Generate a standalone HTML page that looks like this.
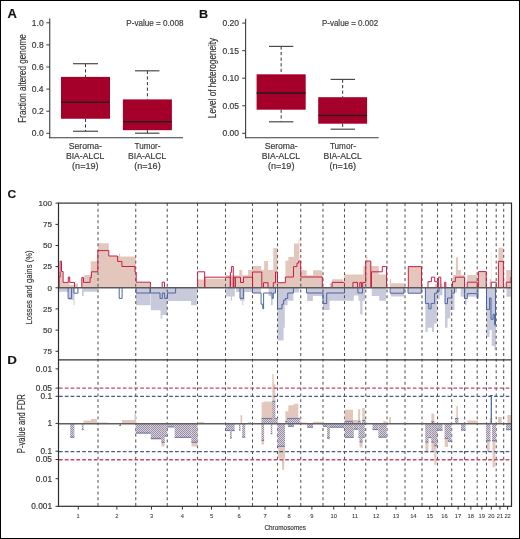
<!DOCTYPE html>
<html><head><meta charset="utf-8"><style>
html,body{margin:0;padding:0;background:#fff;}
#fig{position:relative;width:520px;height:539px;overflow:hidden;background:#fff;}
svg{position:absolute;left:0;top:0;font-family:"Liberation Sans", sans-serif;will-change:transform;filter:blur(0.25px);}
#bd{position:absolute;left:0;top:0;width:520px;height:539px;box-sizing:border-box;border:1px solid #000;}
text{stroke:#333;stroke-width:0.18px;}
</style></head><body><div id="fig">
<svg width="520" height="539" viewBox="0 0 520 539">
<defs>
<pattern id="hatch" patternUnits="userSpaceOnUse" width="2" height="2">
<rect width="2" height="2" fill="#e9cfc6"/>
<rect width="1" height="1" fill="#8690bb"/>
<rect x="1" y="1" width="1" height="1" fill="#8690bb"/>
</pattern>
</defs>
<line x1="49.75" y1="18.5" x2="49.75" y2="138.2" stroke="#3a3a3a" stroke-width="1.1" />
<line x1="49.25" y1="137.7" x2="183" y2="137.7" stroke="#3a3a3a" stroke-width="1.1" />
<line x1="46.35" y1="22.80000000000001" x2="49.75" y2="22.80000000000001" stroke="#3a3a3a" stroke-width="1" />
<text x="31.82" y="25.80" font-size="8.50" font-weight="normal" fill="#3a3a3a" textLength="11.82" lengthAdjust="spacingAndGlyphs" >1.0</text>
<line x1="46.35" y1="44.900000000000006" x2="49.75" y2="44.900000000000006" stroke="#3a3a3a" stroke-width="1" />
<text x="31.82" y="47.90" font-size="8.50" font-weight="normal" fill="#3a3a3a" textLength="11.82" lengthAdjust="spacingAndGlyphs" >0.8</text>
<line x1="46.35" y1="67.00000000000001" x2="49.75" y2="67.00000000000001" stroke="#3a3a3a" stroke-width="1" />
<text x="31.87" y="70.00" font-size="8.50" font-weight="normal" fill="#3a3a3a" textLength="11.82" lengthAdjust="spacingAndGlyphs" >0.6</text>
<line x1="46.35" y1="89.10000000000001" x2="49.75" y2="89.10000000000001" stroke="#3a3a3a" stroke-width="1" />
<text x="31.74" y="92.10" font-size="8.50" font-weight="normal" fill="#3a3a3a" textLength="11.82" lengthAdjust="spacingAndGlyphs" >0.4</text>
<line x1="46.35" y1="111.20000000000002" x2="49.75" y2="111.20000000000002" stroke="#3a3a3a" stroke-width="1" />
<text x="31.91" y="114.20" font-size="8.50" font-weight="normal" fill="#3a3a3a" textLength="11.82" lengthAdjust="spacingAndGlyphs" >0.2</text>
<line x1="46.35" y1="133.3" x2="49.75" y2="133.3" stroke="#3a3a3a" stroke-width="1" />
<text x="31.82" y="136.30" font-size="8.50" font-weight="normal" fill="#3a3a3a" textLength="11.82" lengthAdjust="spacingAndGlyphs" >0.0</text>
<line x1="85.5" y1="63.7" x2="85.5" y2="76.9" stroke="#333" stroke-width="1" stroke-dasharray="3.2,2.4" />
<line x1="85.5" y1="118.75" x2="85.5" y2="131.25" stroke="#333" stroke-width="1" stroke-dasharray="3.2,2.4" />
<line x1="73" y1="63.7" x2="98" y2="63.7" stroke="#4a4a4a" stroke-width="1.2" />
<line x1="73" y1="131.25" x2="98" y2="131.25" stroke="#4a4a4a" stroke-width="1.2" />
<rect x="61.00" y="76.90" width="49.00" height="41.85" fill="#a5002a" />
<line x1="61" y1="102.25" x2="110" y2="102.25" stroke="#2a1a1e" stroke-width="1.5" />
<line x1="147.4" y1="70.8" x2="147.4" y2="99.4" stroke="#333" stroke-width="1" stroke-dasharray="3.2,2.4" />
<line x1="147.4" y1="130.2" x2="147.4" y2="133.2" stroke="#333" stroke-width="1" stroke-dasharray="3.2,2.4" />
<line x1="135" y1="70.8" x2="159.4" y2="70.8" stroke="#4a4a4a" stroke-width="1.2" />
<line x1="135" y1="133.2" x2="159.4" y2="133.2" stroke="#4a4a4a" stroke-width="1.2" />
<rect x="122.90" y="99.40" width="49.00" height="30.80" fill="#a5002a" />
<line x1="122.9" y1="121.8" x2="171.9" y2="121.8" stroke="#2a1a1e" stroke-width="1.5" />
<text x="68.81" y="149.00" font-size="9.30" font-weight="normal" fill="#3a3a3a" textLength="33.07" lengthAdjust="spacingAndGlyphs" >Seroma-</text>
<text x="65.96" y="159.00" font-size="9.30" font-weight="normal" fill="#3a3a3a" textLength="38.36" lengthAdjust="spacingAndGlyphs" >BIA-ALCL</text>
<text x="72.10" y="169.20" font-size="9.30" font-weight="normal" fill="#3a3a3a" textLength="26.52" lengthAdjust="spacingAndGlyphs" >(n=19)</text>
<text x="134.50" y="149.00" font-size="9.30" font-weight="normal" fill="#3a3a3a" textLength="25.97" lengthAdjust="spacingAndGlyphs" >Tumor-</text>
<text x="128.01" y="159.00" font-size="9.30" font-weight="normal" fill="#3a3a3a" textLength="38.36" lengthAdjust="spacingAndGlyphs" >BIA-ALCL</text>
<text x="134.15" y="169.20" font-size="9.30" font-weight="normal" fill="#3a3a3a" textLength="26.52" lengthAdjust="spacingAndGlyphs" >(n=16)</text>
<text x="-0.65" y="0" font-size="10.72" font-weight="normal" fill="#3a3a3a" textLength="88.42" lengthAdjust="spacingAndGlyphs" transform="translate(25.80 122.00) rotate(-90)">Fraction altered genome</text>
<text x="126.25" y="25.70" font-size="8.26" font-weight="normal" fill="#444" textLength="57.20" lengthAdjust="spacingAndGlyphs" >P-value = 0.008</text>
<text x="7.48" y="17.70" font-size="12.17" font-weight="bold" fill="#111" textLength="9.38" lengthAdjust="spacingAndGlyphs" >A</text>
<line x1="245.6" y1="18.75" x2="245.6" y2="138.2" stroke="#3a3a3a" stroke-width="1.1" />
<line x1="245.1" y1="137.7" x2="378.7" y2="137.7" stroke="#3a3a3a" stroke-width="1.1" />
<line x1="242.2" y1="23.10000000000001" x2="245.6" y2="23.10000000000001" stroke="#3a3a3a" stroke-width="1" />
<text x="222.51" y="26.10" font-size="8.50" font-weight="normal" fill="#3a3a3a" textLength="16.54" lengthAdjust="spacingAndGlyphs" >0.20</text>
<line x1="242.2" y1="50.65000000000002" x2="245.6" y2="50.65000000000002" stroke="#3a3a3a" stroke-width="1" />
<text x="222.51" y="53.65" font-size="8.50" font-weight="normal" fill="#3a3a3a" textLength="16.54" lengthAdjust="spacingAndGlyphs" >0.15</text>
<line x1="242.2" y1="78.20000000000002" x2="245.6" y2="78.20000000000002" stroke="#3a3a3a" stroke-width="1" />
<text x="222.51" y="81.20" font-size="8.50" font-weight="normal" fill="#3a3a3a" textLength="16.54" lengthAdjust="spacingAndGlyphs" >0.10</text>
<line x1="242.2" y1="105.75000000000001" x2="245.6" y2="105.75000000000001" stroke="#3a3a3a" stroke-width="1" />
<text x="222.51" y="108.75" font-size="8.50" font-weight="normal" fill="#3a3a3a" textLength="16.54" lengthAdjust="spacingAndGlyphs" >0.05</text>
<line x1="242.2" y1="133.3" x2="245.6" y2="133.3" stroke="#3a3a3a" stroke-width="1" />
<text x="222.51" y="136.30" font-size="8.50" font-weight="normal" fill="#3a3a3a" textLength="16.54" lengthAdjust="spacingAndGlyphs" >0.00</text>
<line x1="281.15" y1="46.4" x2="281.15" y2="74.3" stroke="#333" stroke-width="1" stroke-dasharray="3.2,2.4" />
<line x1="281.15" y1="109.7" x2="281.15" y2="121.8" stroke="#333" stroke-width="1" stroke-dasharray="3.2,2.4" />
<line x1="269" y1="46.4" x2="293.3" y2="46.4" stroke="#4a4a4a" stroke-width="1.2" />
<line x1="269" y1="121.8" x2="293.3" y2="121.8" stroke="#4a4a4a" stroke-width="1.2" />
<rect x="256.60" y="74.30" width="49.10" height="35.40" fill="#a5002a" />
<line x1="256.6" y1="93.1" x2="305.7" y2="93.1" stroke="#2a1a1e" stroke-width="1.5" />
<line x1="342.65" y1="79.4" x2="342.65" y2="97.2" stroke="#333" stroke-width="1" stroke-dasharray="3.2,2.4" />
<line x1="342.65" y1="123.7" x2="342.65" y2="129.2" stroke="#333" stroke-width="1" stroke-dasharray="3.2,2.4" />
<line x1="330.6" y1="79.4" x2="355" y2="79.4" stroke="#4a4a4a" stroke-width="1.2" />
<line x1="330.6" y1="129.2" x2="355" y2="129.2" stroke="#4a4a4a" stroke-width="1.2" />
<rect x="318.20" y="97.20" width="48.90" height="26.50" fill="#a5002a" />
<line x1="318.2" y1="115.4" x2="367.1" y2="115.4" stroke="#2a1a1e" stroke-width="1.5" />
<text x="264.66" y="149.00" font-size="9.30" font-weight="normal" fill="#3a3a3a" textLength="33.07" lengthAdjust="spacingAndGlyphs" >Seroma-</text>
<text x="261.81" y="159.00" font-size="9.30" font-weight="normal" fill="#3a3a3a" textLength="38.36" lengthAdjust="spacingAndGlyphs" >BIA-ALCL</text>
<text x="267.95" y="169.20" font-size="9.30" font-weight="normal" fill="#3a3a3a" textLength="26.52" lengthAdjust="spacingAndGlyphs" >(n=19)</text>
<text x="329.90" y="149.00" font-size="9.30" font-weight="normal" fill="#3a3a3a" textLength="25.97" lengthAdjust="spacingAndGlyphs" >Tumor-</text>
<text x="323.41" y="159.00" font-size="9.30" font-weight="normal" fill="#3a3a3a" textLength="38.36" lengthAdjust="spacingAndGlyphs" >BIA-ALCL</text>
<text x="329.55" y="169.20" font-size="9.30" font-weight="normal" fill="#3a3a3a" textLength="26.52" lengthAdjust="spacingAndGlyphs" >(n=16)</text>
<text x="-0.65" y="0" font-size="10.00" font-weight="normal" fill="#3a3a3a" textLength="80.30" lengthAdjust="spacingAndGlyphs" transform="translate(216.00 117.50) rotate(-90)">Level of heterogeneity</text>
<text x="321.96" y="25.70" font-size="8.26" font-weight="normal" fill="#444" textLength="56.16" lengthAdjust="spacingAndGlyphs" >P-value = 0.002</text>
<text x="198.98" y="17.50" font-size="11.59" font-weight="bold" fill="#111" textLength="9.12" lengthAdjust="spacingAndGlyphs" >B</text>
<path d="M59.10,287.8V272.10H62.90V282.40H69.40V284.80H74.90V283.50H78.00V287.8ZM81.80,287.8V277.60H84.20V274.90H90.70V261.20H97.90V287.8ZM98.00,287.8V243.20H108.80V256.00H118.80V256.50H119.00V253.50H120.00V256.50H135.80V287.8ZM136.20,287.8V282.50H150.40V287.8ZM197.60,287.8V279.50H204.70V278.80H225.30V287.8ZM225.50,287.8V275.20H239.30V270.00H242.20V275.20H248.00V270.00H252.50V266.00H261.20V270.00H264.10V261.10H268.10V270.00H273.30V247.90H277.40V287.8ZM277.50,287.8V282.70H285.40V260.80H288.30V257.10H294.00V243.50H298.60V239.00H299.20V239.00H299.40V260.80H300.70V270.30H306.70V275.20H313.00V270.30H322.30V287.8ZM329.80,287.8V283.30H332.10V279.30H343.00V287.8ZM344.20,287.8V274.60H363.30V266.00H365.70V261.40H366.50V256.80H367.50V261.40H370.80V266.00H378.80V274.60H386.30V287.8ZM389.80,287.8V279.30H391.00V283.30H404.20V287.8ZM408.30,287.8V266.60H421.50V287.8ZM434.70,287.8V283.90H437.50V287.8ZM440.80,287.8V284.00H442.50V287.8ZM453.00,287.8V275.00H455.90V257.20H458.00V270.00H460.90V275.00H464.60V287.8ZM467.20,287.8V275.00H477.30V287.8ZM478.40,287.8V271.60H486.20V287.8ZM489.50,287.8V279.00H491.00V287.8ZM498.40,287.8V247.70H503.40V287.8ZM506.20,287.8V270.00H511.20V287.8Z" fill="#e4c7bc"/>
<rect x="490.9" y="252.0" width="0.60" height="35.80" fill="#eed8d0"/>
<path d="M58.90,287.8V291.80H68.70V300.00H73.50V305.00H74.50V287.8ZM82.00,287.8V296.10H83.70V291.80H97.50V287.8ZM136.00,287.8V305.30H150.40V287.8ZM150.80,287.8V310.30H160.60V318.60H162.30V314.90H167.00V287.8ZM167.30,287.8V301.00H191.10V305.30H196.90V287.8ZM226.10,287.8V296.50H230.80V300.70H232.00V296.50H234.80V287.8ZM236.00,287.8V292.00H240.00V300.70H242.30V305.30H243.30V300.70H244.60V292.00H252.50V293.00H261.10V287.8ZM268.60,287.8V296.10H271.00V305.30H272.70V293.00H275.50V287.8ZM277.50,287.8V340.50H283.60V327.80H284.80V305.30H287.70V300.70H293.40V292.50H299.20V287.8ZM307.10,287.8V301.00H312.90V296.10H323.00V310.00H329.60V300.70H344.50V300.70H353.80V295.50H358.50V300.70H360.20V314.60H362.50V300.70H365.00V287.8ZM371.70,287.8V296.10H379.20V300.70H386.10V287.8ZM390.80,287.8V296.50H404.00V287.8ZM408.00,287.8V293.20H421.30V287.8ZM425.40,287.8V331.90H427.70V327.70H432.00V331.90H434.10V323.40H436.90V299.50H439.70V295.30H442.50V287.8ZM445.00,287.8V327.70H447.50V318.50H450.30V310.00H454.50V292.50H457.00V287.8ZM460.80,287.8V296.70H465.00V305.00H466.50V296.70H477.70V287.8ZM486.50,287.8V336.90H489.60V330.00H491.70V346.00H494.60V350.30H496.00V287.8ZM506.50,287.8V296.70H510.80V287.8Z" fill="#c8cadc"/>
<line x1="98" y1="202.98" x2="98" y2="506.3" stroke="#555" stroke-width="1.05" stroke-dasharray="2.9,2.87"/>
<line x1="135.75" y1="202.98" x2="135.75" y2="506.3" stroke="#555" stroke-width="1.05" stroke-dasharray="2.9,2.87"/>
<line x1="167.25" y1="202.98" x2="167.25" y2="506.3" stroke="#555" stroke-width="1.05" stroke-dasharray="2.9,2.87"/>
<line x1="197.5" y1="202.98" x2="197.5" y2="506.3" stroke="#555" stroke-width="1.05" stroke-dasharray="2.9,2.87"/>
<line x1="225.5" y1="202.98" x2="225.5" y2="506.3" stroke="#555" stroke-width="1.05" stroke-dasharray="2.9,2.87"/>
<line x1="252.5" y1="202.98" x2="252.5" y2="506.3" stroke="#555" stroke-width="1.05" stroke-dasharray="2.9,2.87"/>
<line x1="277.5" y1="202.98" x2="277.5" y2="506.3" stroke="#555" stroke-width="1.05" stroke-dasharray="2.9,2.87"/>
<line x1="300.75" y1="202.98" x2="300.75" y2="506.3" stroke="#555" stroke-width="1.05" stroke-dasharray="2.9,2.87"/>
<line x1="323" y1="202.98" x2="323" y2="506.3" stroke="#555" stroke-width="1.05" stroke-dasharray="2.9,2.87"/>
<line x1="344.5" y1="202.98" x2="344.5" y2="506.3" stroke="#555" stroke-width="1.05" stroke-dasharray="2.9,2.87"/>
<line x1="365.75" y1="202.98" x2="365.75" y2="506.3" stroke="#555" stroke-width="1.05" stroke-dasharray="2.9,2.87"/>
<line x1="387" y1="202.98" x2="387" y2="506.3" stroke="#555" stroke-width="1.05" stroke-dasharray="2.9,2.87"/>
<line x1="405" y1="202.98" x2="405" y2="506.3" stroke="#555" stroke-width="1.05" stroke-dasharray="2.9,2.87"/>
<line x1="422" y1="202.98" x2="422" y2="506.3" stroke="#555" stroke-width="1.05" stroke-dasharray="2.9,2.87"/>
<line x1="437.5" y1="202.98" x2="437.5" y2="506.3" stroke="#555" stroke-width="1.05" stroke-dasharray="2.9,2.87"/>
<line x1="451.7" y1="202.98" x2="451.7" y2="506.3" stroke="#555" stroke-width="1.05" stroke-dasharray="2.9,2.87"/>
<line x1="464.6" y1="202.98" x2="464.6" y2="506.3" stroke="#555" stroke-width="1.05" stroke-dasharray="2.9,2.87"/>
<line x1="477.2" y1="202.98" x2="477.2" y2="506.3" stroke="#555" stroke-width="1.05" stroke-dasharray="2.9,2.87"/>
<line x1="486.5" y1="202.98" x2="486.5" y2="506.3" stroke="#555" stroke-width="1.05" stroke-dasharray="2.9,2.87"/>
<line x1="496.2" y1="202.98" x2="496.2" y2="506.3" stroke="#555" stroke-width="1.05" stroke-dasharray="2.9,2.87"/>
<line x1="503.7" y1="202.98" x2="503.7" y2="506.3" stroke="#555" stroke-width="1.05" stroke-dasharray="2.9,2.87"/>
<path d="M59.1,287.8V277.0H60.1V261.2H61.5V271.5H63.1V282.4H68.3V277.0H69.7V282.4H74.5V287.8M81.8,287.8V277.6H83.5V282.4H90.1V277.6H91.4V271.8H97.8V250.6H108.8V256.0H117.6V261.4H121.9V266.5H135.0V272.2H136.2V282.2H150.4V287.8M162.2,287.8V282.2H164.5V287.8M197.6,287.8V271.8H204.7V287.8M204.75,287.8V277.2H225.5V277.2H230.3V287.8M230.35,287.8V272.3H231.6V266.5H233.3V287.8M233.35,287.8V277.2H235.2V287.8M235.25,287.8V277.2H240.5V282.5H243.5V277.2H252.6V287.8M252.5,287.8V272.0H261.8V287.8M263.5,287.8V282.7H268.1V287.8M273.3,287.8V282.7H275.5V272.0H277.5V282.7H285.4V277.0H293.5V266.6H297.0V263.1H298.6V261.1H300.7V277.0H322.3V287.8M332.1,287.8V282.4H344.2V287.8M352.9,287.8V282.4H357.5V287.8M359.8,287.8V282.4H361.5V287.8M362.7,287.8V282.4H365.7V261.1H370.8V287.8M371.5,287.8V271.8H382.3V266.6H386.5V287.8M408.3,287.8V266.6H421.5V287.8M428.0,287.8V281.7H431.4V277.2H434.7V281.7H437.5V287.8M438.6,287.8V277.2H440.8V287.8M444.7,287.8V282.2H445.8V287.8M452.5,287.8V281.7H455.3V277.2H464.6V287.8M467.2,287.8V282.2H477.3V287.8M478.4,287.8V271.6H486.2V287.8M491.2,287.8V282.2H496.2V287.8M498.4,287.8V261.4H503.4V287.8M506.2,287.8V282.2H511.0V277.0H511.5V287.8" fill="none" stroke="#c81e46" stroke-width="1.0" stroke-linejoin="miter"/>
<path d="M68.1,287.8V298.4H71.6V287.8M73.9,287.8V293.2H77.9V287.8M119.2,287.8V298.4H122.1V287.8M136.0,287.8V293.0H150.2V287.8M150.25,287.8V293.0H160.0V298.4H162.3V293.0H164.6V298.4H167.5V293.0H175.6V287.8M240.0,287.8V298.4H243.4V287.8M252.5,287.8V293.0H261.1V304.2H262.8V308.8H263.6V293.0H272.1V298.4H273.3V293.0H275.5V287.8M277.5,287.8V308.8H282.0V304.2H283.6V300.1H285.4V298.4H287.7V293.0H293.4V287.8M306.5,287.8V293.0H323.0V303.6H326.7V293.0H344.5V287.8M357.9,287.8V293.0H362.5V287.8M390.2,287.8V293.2H404.0V287.8M408.0,287.8V293.2H421.3V287.8M425.4,287.8V303.4H428.8V308.8H431.1V303.4H434.6V293.2H436.9V291.7H439.0V287.8M445.0,287.8V303.7H447.5V298.0H451.7V293.0H454.5V287.8M464.6,287.8V298.5H467.3V293.6H477.4V298.5H478.0V287.8M486.5,287.8V309.4H489.6V298.0H491.0V319.3H493.1V314.3H494.6V324.9H495.5V287.8" fill="none" stroke="#46609a" stroke-width="0.95" stroke-linejoin="miter"/>
<line x1="58.5" y1="287.8" x2="511.5" y2="287.8" stroke="#5a5a5a" stroke-width="1.5"/>
<path d="M83.50,423.7V420.60H91.00V418.90H96.90V422.60H107.80V423.7ZM122.00,423.7V420.00H134.50V413.40H136.00V423.7ZM197.70,423.7V421.90H203.80V423.7ZM240.50,423.7V415.20H242.20V423.7ZM247.90,423.7V422.20H251.40V423.7ZM261.60,423.7V402.30H264.10V401.60H272.30V374.10H273.80V383.80H275.30V418.00H277.50V423.7ZM285.40,423.7V411.30H288.30V405.30H293.80V403.80H298.30V418.00H300.50V423.7ZM301.50,423.7V422.60H306.50V423.7ZM313.00,423.7V421.70H322.20V423.7ZM344.70,423.7V409.70H353.00V420.00H358.00V423.7ZM358.10,423.7V409.20H360.10V423.7ZM362.30,423.7V408.00H364.80V423.7ZM383.30,423.7V421.00H385.90V423.7ZM389.20,423.7V417.00H390.90V423.7ZM431.40,423.7V413.50H434.30V423.7ZM456.30,423.7V406.10H458.00V423.7ZM467.40,423.7V420.40H477.60V423.7ZM489.70,423.7V418.00H491.00V423.7ZM498.00,423.7V417.10H501.70V423.7ZM507.30,423.7V414.90H511.00V423.7Z" fill="#e4c7bc"/>
<path d="M150.80,423.7V439.80H161.50V446.50H164.60V423.7ZM191.50,423.7V446.50H197.40V423.7ZM261.60,423.7V444.50H264.10V423.7ZM278.20,423.7V458.60H282.00V469.80H284.20V458.60H285.00V423.7ZM327.20,423.7V439.30H329.70V423.7ZM359.60,423.7V447.50H362.50V423.7ZM425.40,423.7V452.90H428.40V423.7ZM431.40,423.7V451.40H434.30V464.70H436.50V423.7ZM444.70,423.7V447.00H448.00V423.7ZM486.90,423.7V451.40H489.70V423.7ZM492.50,423.7V467.20H495.30V423.7Z" fill="#e4c7bc"/>
<rect x="261.6" y="418.0" width="10.70" height="5.70" fill="url(#hatch)"/>
<line x1="261.6" y1="418.4" x2="272.3" y2="418.4" stroke="#50649c" stroke-width="0.75"/>
<rect x="272.3" y="400.9" width="3.00" height="22.80" fill="url(#hatch)"/>
<line x1="272.3" y1="401.29999999999995" x2="275.3" y2="401.29999999999995" stroke="#50649c" stroke-width="0.75"/>
<rect x="275.3" y="418.0" width="2.20" height="5.70" fill="url(#hatch)"/>
<line x1="275.3" y1="418.4" x2="277.5" y2="418.4" stroke="#50649c" stroke-width="0.75"/>
<rect x="285.4" y="421.0" width="1.70" height="2.70" fill="url(#hatch)"/>
<line x1="285.4" y1="421.4" x2="287.1" y2="421.4" stroke="#50649c" stroke-width="0.75"/>
<rect x="287.1" y="418.0" width="12.70" height="5.70" fill="url(#hatch)"/>
<line x1="287.1" y1="418.4" x2="299.8" y2="418.4" stroke="#50649c" stroke-width="0.75"/>
<rect x="344.7" y="420.9" width="8.30" height="2.80" fill="url(#hatch)"/>
<line x1="344.7" y1="421.29999999999995" x2="353.0" y2="421.29999999999995" stroke="#50649c" stroke-width="0.75"/>
<rect x="358.1" y="420.9" width="2.50" height="2.80" fill="url(#hatch)"/>
<line x1="358.1" y1="421.29999999999995" x2="360.6" y2="421.29999999999995" stroke="#50649c" stroke-width="0.75"/>
<rect x="362.3" y="420.0" width="3.20" height="3.70" fill="url(#hatch)"/>
<line x1="362.3" y1="420.4" x2="365.5" y2="420.4" stroke="#50649c" stroke-width="0.75"/>
<rect x="431.4" y="421.4" width="2.90" height="2.30" fill="url(#hatch)"/>
<line x1="431.4" y1="421.79999999999995" x2="434.3" y2="421.79999999999995" stroke="#50649c" stroke-width="0.75"/>
<rect x="455.0" y="418.0" width="3.40" height="5.70" fill="url(#hatch)"/>
<line x1="455.0" y1="418.4" x2="458.4" y2="418.4" stroke="#50649c" stroke-width="0.75"/>
<rect x="70.2" y="423.7" width="4.20" height="13.90" fill="url(#hatch)"/>
<line x1="70.2" y1="437.20000000000005" x2="74.4" y2="437.20000000000005" stroke="#50649c" stroke-width="0.75"/>
<rect x="81.9" y="423.7" width="1.60" height="6.30" fill="url(#hatch)"/>
<line x1="81.9" y1="429.6" x2="83.5" y2="429.6" stroke="#50649c" stroke-width="0.75"/>
<rect x="119.4" y="423.7" width="1.60" height="2.30" fill="url(#hatch)"/>
<line x1="119.4" y1="425.6" x2="121.0" y2="425.6" stroke="#50649c" stroke-width="0.75"/>
<rect x="135.7" y="423.7" width="15.10" height="9.80" fill="url(#hatch)"/>
<line x1="135.7" y1="433.1" x2="150.8" y2="433.1" stroke="#50649c" stroke-width="0.75"/>
<rect x="150.8" y="423.7" width="10.70" height="15.10" fill="url(#hatch)"/>
<line x1="150.8" y1="438.40000000000003" x2="161.5" y2="438.40000000000003" stroke="#50649c" stroke-width="0.75"/>
<rect x="161.5" y="423.7" width="3.10" height="19.00" fill="url(#hatch)"/>
<line x1="161.5" y1="442.3" x2="164.6" y2="442.3" stroke="#50649c" stroke-width="0.75"/>
<rect x="164.6" y="423.7" width="2.60" height="12.80" fill="url(#hatch)"/>
<line x1="164.6" y1="436.1" x2="167.2" y2="436.1" stroke="#50649c" stroke-width="0.75"/>
<rect x="167.2" y="423.7" width="7.40" height="3.60" fill="url(#hatch)"/>
<line x1="167.2" y1="426.90000000000003" x2="174.6" y2="426.90000000000003" stroke="#50649c" stroke-width="0.75"/>
<rect x="174.6" y="423.7" width="16.90" height="14.10" fill="url(#hatch)"/>
<line x1="174.6" y1="437.40000000000003" x2="191.5" y2="437.40000000000003" stroke="#50649c" stroke-width="0.75"/>
<rect x="191.5" y="423.7" width="5.90" height="19.00" fill="url(#hatch)"/>
<line x1="191.5" y1="442.3" x2="197.4" y2="442.3" stroke="#50649c" stroke-width="0.75"/>
<rect x="225.8" y="423.7" width="8.80" height="7.30" fill="url(#hatch)"/>
<line x1="225.8" y1="430.6" x2="234.6" y2="430.6" stroke="#50649c" stroke-width="0.75"/>
<rect x="230.0" y="423.7" width="1.70" height="14.70" fill="url(#hatch)"/>
<line x1="230.0" y1="438.0" x2="231.7" y2="438.0" stroke="#50649c" stroke-width="0.75"/>
<rect x="239.0" y="423.7" width="1.50" height="6.80" fill="url(#hatch)"/>
<line x1="239.0" y1="430.1" x2="240.5" y2="430.1" stroke="#50649c" stroke-width="0.75"/>
<rect x="242.2" y="423.7" width="3.00" height="13.90" fill="url(#hatch)"/>
<line x1="242.2" y1="437.20000000000005" x2="245.2" y2="437.20000000000005" stroke="#50649c" stroke-width="0.75"/>
<rect x="261.6" y="423.7" width="2.50" height="17.10" fill="url(#hatch)"/>
<line x1="261.6" y1="440.40000000000003" x2="264.1" y2="440.40000000000003" stroke="#50649c" stroke-width="0.75"/>
<rect x="270.8" y="423.7" width="1.50" height="10.40" fill="url(#hatch)"/>
<line x1="270.8" y1="433.70000000000005" x2="272.3" y2="433.70000000000005" stroke="#50649c" stroke-width="0.75"/>
<rect x="277.5" y="423.7" width="7.50" height="23.00" fill="url(#hatch)"/>
<line x1="277.5" y1="446.3" x2="285.0" y2="446.3" stroke="#50649c" stroke-width="0.75"/>
<rect x="287.9" y="423.7" width="5.90" height="3.00" fill="url(#hatch)"/>
<line x1="287.9" y1="426.3" x2="293.8" y2="426.3" stroke="#50649c" stroke-width="0.75"/>
<rect x="307.2" y="423.7" width="5.80" height="3.90" fill="url(#hatch)"/>
<line x1="307.2" y1="427.20000000000005" x2="313.0" y2="427.20000000000005" stroke="#50649c" stroke-width="0.75"/>
<rect x="323.0" y="423.7" width="4.20" height="3.00" fill="url(#hatch)"/>
<line x1="323.0" y1="426.3" x2="327.2" y2="426.3" stroke="#50649c" stroke-width="0.75"/>
<rect x="327.2" y="423.7" width="2.50" height="14.70" fill="url(#hatch)"/>
<line x1="327.2" y1="438.0" x2="329.7" y2="438.0" stroke="#50649c" stroke-width="0.75"/>
<rect x="329.7" y="423.7" width="14.70" height="3.90" fill="url(#hatch)"/>
<line x1="329.7" y1="427.20000000000005" x2="344.4" y2="427.20000000000005" stroke="#50649c" stroke-width="0.75"/>
<rect x="344.7" y="423.7" width="9.10" height="14.00" fill="url(#hatch)"/>
<line x1="344.7" y1="437.3" x2="353.8" y2="437.3" stroke="#50649c" stroke-width="0.75"/>
<rect x="353.8" y="423.7" width="4.70" height="5.90" fill="url(#hatch)"/>
<line x1="353.8" y1="429.20000000000005" x2="358.5" y2="429.20000000000005" stroke="#50649c" stroke-width="0.75"/>
<rect x="358.5" y="423.7" width="6.30" height="14.00" fill="url(#hatch)"/>
<line x1="358.5" y1="437.3" x2="364.8" y2="437.3" stroke="#50649c" stroke-width="0.75"/>
<rect x="359.6" y="423.7" width="2.90" height="18.60" fill="url(#hatch)"/>
<line x1="359.6" y1="441.90000000000003" x2="362.5" y2="441.90000000000003" stroke="#50649c" stroke-width="0.75"/>
<rect x="372.5" y="423.7" width="5.90" height="6.30" fill="url(#hatch)"/>
<line x1="372.5" y1="429.6" x2="378.4" y2="429.6" stroke="#50649c" stroke-width="0.75"/>
<rect x="378.4" y="423.7" width="8.30" height="13.90" fill="url(#hatch)"/>
<line x1="378.4" y1="437.20000000000005" x2="386.7" y2="437.20000000000005" stroke="#50649c" stroke-width="0.75"/>
<rect x="425.4" y="423.7" width="3.00" height="18.80" fill="url(#hatch)"/>
<line x1="425.4" y1="442.1" x2="428.4" y2="442.1" stroke="#50649c" stroke-width="0.75"/>
<rect x="428.4" y="423.7" width="3.00" height="14.30" fill="url(#hatch)"/>
<line x1="428.4" y1="437.6" x2="431.4" y2="437.6" stroke="#50649c" stroke-width="0.75"/>
<rect x="431.4" y="423.7" width="2.90" height="18.80" fill="url(#hatch)"/>
<line x1="431.4" y1="442.1" x2="434.3" y2="442.1" stroke="#50649c" stroke-width="0.75"/>
<rect x="434.3" y="423.7" width="3.00" height="22.50" fill="url(#hatch)"/>
<line x1="434.3" y1="445.8" x2="437.3" y2="445.8" stroke="#50649c" stroke-width="0.75"/>
<rect x="437.4" y="423.7" width="5.10" height="6.90" fill="url(#hatch)"/>
<line x1="437.4" y1="430.20000000000005" x2="442.5" y2="430.20000000000005" stroke="#50649c" stroke-width="0.75"/>
<rect x="444.7" y="423.7" width="3.30" height="15.10" fill="url(#hatch)"/>
<line x1="444.7" y1="438.40000000000003" x2="448.0" y2="438.40000000000003" stroke="#50649c" stroke-width="0.75"/>
<rect x="448.0" y="423.7" width="3.40" height="18.00" fill="url(#hatch)"/>
<line x1="448.0" y1="441.3" x2="451.4" y2="441.3" stroke="#50649c" stroke-width="0.75"/>
<rect x="461.0" y="423.7" width="4.50" height="6.70" fill="url(#hatch)"/>
<line x1="461.0" y1="430.0" x2="465.5" y2="430.0" stroke="#50649c" stroke-width="0.75"/>
<rect x="486.0" y="423.7" width="4.50" height="17.50" fill="url(#hatch)"/>
<line x1="486.0" y1="440.8" x2="490.5" y2="440.8" stroke="#50649c" stroke-width="0.75"/>
<rect x="492.0" y="423.7" width="4.20" height="17.50" fill="url(#hatch)"/>
<line x1="492.0" y1="440.8" x2="496.2" y2="440.8" stroke="#50649c" stroke-width="0.75"/>
<rect x="506.0" y="423.7" width="5.00" height="6.40" fill="url(#hatch)"/>
<line x1="506.0" y1="429.70000000000005" x2="511.0" y2="429.70000000000005" stroke="#50649c" stroke-width="0.75"/>
<line x1="491.3" y1="395.5" x2="491.3" y2="423.7" stroke="#46609a" stroke-width="1.2"/>
<line x1="489.8" y1="395.6" x2="492.8" y2="395.6" stroke="#46609a" stroke-width="1"/>
<line x1="59.0" y1="388.1" x2="511.5" y2="388.1" stroke="#c84466" stroke-width="1.4" stroke-dasharray="3.7,2.1"/>
<line x1="59.0" y1="396.4" x2="511.5" y2="396.4" stroke="#44589a" stroke-width="1.15" stroke-dasharray="3.7,2.1"/>
<line x1="59.0" y1="451.6" x2="511.5" y2="451.6" stroke="#44589a" stroke-width="1.15" stroke-dasharray="3.7,2.1"/>
<line x1="59.0" y1="459.8" x2="511.5" y2="459.8" stroke="#c84466" stroke-width="1.4" stroke-dasharray="3.7,2.1"/>
<line x1="58.5" y1="423.7" x2="511.5" y2="423.7" stroke="#606060" stroke-width="1.6"/>
<line x1="58.5" y1="359.9" x2="511.5" y2="359.9" stroke="#303030" stroke-width="1.2"/>
<rect x="58.5" y="203.1" width="453.0" height="303.20000000000005" fill="none" stroke="#2e2e2e" stroke-width="1.2"/>
<line x1="55.5" y1="203.1" x2="58.5" y2="203.1" stroke="#333" stroke-width="1"/>
<text x="38.44" y="205.95" font-size="8.10" font-weight="normal" fill="#3a3a3a" textLength="13.51" lengthAdjust="spacingAndGlyphs" >100</text>
<line x1="55.5" y1="224.4" x2="58.5" y2="224.4" stroke="#333" stroke-width="1"/>
<text x="42.93" y="227.25" font-size="8.10" font-weight="normal" fill="#3a3a3a" textLength="9.01" lengthAdjust="spacingAndGlyphs" >75</text>
<line x1="55.5" y1="245.5" x2="58.5" y2="245.5" stroke="#333" stroke-width="1"/>
<text x="42.93" y="248.35" font-size="8.10" font-weight="normal" fill="#3a3a3a" textLength="9.01" lengthAdjust="spacingAndGlyphs" >50</text>
<line x1="55.5" y1="266.6" x2="58.5" y2="266.6" stroke="#333" stroke-width="1"/>
<text x="42.93" y="269.45" font-size="8.10" font-weight="normal" fill="#3a3a3a" textLength="9.01" lengthAdjust="spacingAndGlyphs" >25</text>
<line x1="55.5" y1="287.8" x2="58.5" y2="287.8" stroke="#333" stroke-width="1"/>
<text x="47.43" y="290.65" font-size="8.10" font-weight="normal" fill="#3a3a3a" textLength="4.50" lengthAdjust="spacingAndGlyphs" >0</text>
<line x1="55.5" y1="308.9" x2="58.5" y2="308.9" stroke="#333" stroke-width="1"/>
<text x="42.93" y="311.75" font-size="8.10" font-weight="normal" fill="#3a3a3a" textLength="9.01" lengthAdjust="spacingAndGlyphs" >25</text>
<line x1="55.5" y1="330.1" x2="58.5" y2="330.1" stroke="#333" stroke-width="1"/>
<text x="42.93" y="332.95" font-size="8.10" font-weight="normal" fill="#3a3a3a" textLength="9.01" lengthAdjust="spacingAndGlyphs" >50</text>
<line x1="55.5" y1="351.3" x2="58.5" y2="351.3" stroke="#333" stroke-width="1"/>
<text x="42.93" y="354.15" font-size="8.10" font-weight="normal" fill="#3a3a3a" textLength="9.01" lengthAdjust="spacingAndGlyphs" >75</text>
<line x1="55.5" y1="368.9" x2="58.5" y2="368.9" stroke="#333" stroke-width="1"/>
<text x="35.87" y="371.80" font-size="8.30" font-weight="normal" fill="#3a3a3a" textLength="16.15" lengthAdjust="spacingAndGlyphs" >0.01</text>
<line x1="55.5" y1="388.1" x2="58.5" y2="388.1" stroke="#333" stroke-width="1"/>
<text x="35.79" y="391.00" font-size="8.30" font-weight="normal" fill="#3a3a3a" textLength="16.15" lengthAdjust="spacingAndGlyphs" >0.05</text>
<line x1="55.5" y1="396.3" x2="58.5" y2="396.3" stroke="#333" stroke-width="1"/>
<text x="40.48" y="399.20" font-size="8.30" font-weight="normal" fill="#3a3a3a" textLength="11.54" lengthAdjust="spacingAndGlyphs" >0.1</text>
<line x1="55.5" y1="423.4" x2="58.5" y2="423.4" stroke="#333" stroke-width="1"/>
<text x="47.41" y="426.30" font-size="8.30" font-weight="normal" fill="#3a3a3a" textLength="4.62" lengthAdjust="spacingAndGlyphs" >1</text>
<line x1="55.5" y1="451.2" x2="58.5" y2="451.2" stroke="#333" stroke-width="1"/>
<text x="40.48" y="454.10" font-size="8.30" font-weight="normal" fill="#3a3a3a" textLength="11.54" lengthAdjust="spacingAndGlyphs" >0.1</text>
<line x1="55.5" y1="459.5" x2="58.5" y2="459.5" stroke="#333" stroke-width="1"/>
<text x="35.79" y="462.40" font-size="8.30" font-weight="normal" fill="#3a3a3a" textLength="16.15" lengthAdjust="spacingAndGlyphs" >0.05</text>
<line x1="55.5" y1="478.7" x2="58.5" y2="478.7" stroke="#333" stroke-width="1"/>
<text x="35.87" y="481.60" font-size="8.30" font-weight="normal" fill="#3a3a3a" textLength="16.15" lengthAdjust="spacingAndGlyphs" >0.01</text>
<line x1="55.5" y1="506.3" x2="58.5" y2="506.3" stroke="#333" stroke-width="1"/>
<text x="31.26" y="509.20" font-size="8.30" font-weight="normal" fill="#3a3a3a" textLength="20.77" lengthAdjust="spacingAndGlyphs" >0.001</text>
<line x1="78.25" y1="506.3" x2="78.25" y2="509.6" stroke="#333" stroke-width="1"/>
<text x="76.57" y="518.00" font-size="6.10" font-weight="normal" fill="#3a3a3a" textLength="3.22" lengthAdjust="spacingAndGlyphs" style="stroke-width:0.08px">1</text>
<line x1="116.88" y1="506.3" x2="116.88" y2="509.6" stroke="#333" stroke-width="1"/>
<text x="115.27" y="518.00" font-size="6.10" font-weight="normal" fill="#3a3a3a" textLength="3.22" lengthAdjust="spacingAndGlyphs" style="stroke-width:0.08px">2</text>
<line x1="151.50" y1="506.3" x2="151.50" y2="509.6" stroke="#333" stroke-width="1"/>
<text x="149.91" y="518.00" font-size="6.10" font-weight="normal" fill="#3a3a3a" textLength="3.22" lengthAdjust="spacingAndGlyphs" style="stroke-width:0.08px">3</text>
<line x1="182.38" y1="506.3" x2="182.38" y2="509.6" stroke="#333" stroke-width="1"/>
<text x="180.78" y="518.00" font-size="6.10" font-weight="normal" fill="#3a3a3a" textLength="3.22" lengthAdjust="spacingAndGlyphs" style="stroke-width:0.08px">4</text>
<line x1="211.50" y1="506.3" x2="211.50" y2="509.6" stroke="#333" stroke-width="1"/>
<text x="209.89" y="518.00" font-size="6.10" font-weight="normal" fill="#3a3a3a" textLength="3.22" lengthAdjust="spacingAndGlyphs" style="stroke-width:0.08px">5</text>
<line x1="239.00" y1="506.3" x2="239.00" y2="509.6" stroke="#333" stroke-width="1"/>
<text x="237.38" y="518.00" font-size="6.10" font-weight="normal" fill="#3a3a3a" textLength="3.22" lengthAdjust="spacingAndGlyphs" style="stroke-width:0.08px">6</text>
<line x1="265.00" y1="506.3" x2="265.00" y2="509.6" stroke="#333" stroke-width="1"/>
<text x="263.39" y="518.00" font-size="6.10" font-weight="normal" fill="#3a3a3a" textLength="3.22" lengthAdjust="spacingAndGlyphs" style="stroke-width:0.08px">7</text>
<line x1="289.12" y1="506.3" x2="289.12" y2="509.6" stroke="#333" stroke-width="1"/>
<text x="287.50" y="518.00" font-size="6.10" font-weight="normal" fill="#3a3a3a" textLength="3.22" lengthAdjust="spacingAndGlyphs" style="stroke-width:0.08px">8</text>
<line x1="311.88" y1="506.3" x2="311.88" y2="509.6" stroke="#333" stroke-width="1"/>
<text x="310.27" y="518.00" font-size="6.10" font-weight="normal" fill="#3a3a3a" textLength="3.22" lengthAdjust="spacingAndGlyphs" style="stroke-width:0.08px">9</text>
<line x1="333.75" y1="506.3" x2="333.75" y2="509.6" stroke="#333" stroke-width="1"/>
<text x="330.43" y="518.00" font-size="6.10" font-weight="normal" fill="#3a3a3a" textLength="6.45" lengthAdjust="spacingAndGlyphs" style="stroke-width:0.08px">10</text>
<line x1="355.12" y1="506.3" x2="355.12" y2="509.6" stroke="#333" stroke-width="1"/>
<text x="352.05" y="518.00" font-size="6.10" font-weight="normal" fill="#3a3a3a" textLength="6.02" lengthAdjust="spacingAndGlyphs" style="stroke-width:0.08px">11</text>
<line x1="376.38" y1="506.3" x2="376.38" y2="509.6" stroke="#333" stroke-width="1"/>
<text x="373.09" y="518.00" font-size="6.10" font-weight="normal" fill="#3a3a3a" textLength="6.45" lengthAdjust="spacingAndGlyphs" style="stroke-width:0.08px">12</text>
<line x1="396.00" y1="506.3" x2="396.00" y2="509.6" stroke="#333" stroke-width="1"/>
<text x="392.70" y="518.00" font-size="6.10" font-weight="normal" fill="#3a3a3a" textLength="6.45" lengthAdjust="spacingAndGlyphs" style="stroke-width:0.08px">13</text>
<line x1="413.50" y1="506.3" x2="413.50" y2="509.6" stroke="#333" stroke-width="1"/>
<text x="410.15" y="518.00" font-size="6.10" font-weight="normal" fill="#3a3a3a" textLength="6.45" lengthAdjust="spacingAndGlyphs" style="stroke-width:0.08px">14</text>
<line x1="429.75" y1="506.3" x2="429.75" y2="509.6" stroke="#333" stroke-width="1"/>
<text x="426.43" y="518.00" font-size="6.10" font-weight="normal" fill="#3a3a3a" textLength="6.45" lengthAdjust="spacingAndGlyphs" style="stroke-width:0.08px">15</text>
<line x1="444.60" y1="506.3" x2="444.60" y2="509.6" stroke="#333" stroke-width="1"/>
<text x="441.30" y="518.00" font-size="6.10" font-weight="normal" fill="#3a3a3a" textLength="6.45" lengthAdjust="spacingAndGlyphs" style="stroke-width:0.08px">16</text>
<line x1="458.15" y1="506.3" x2="458.15" y2="509.6" stroke="#333" stroke-width="1"/>
<text x="454.86" y="518.00" font-size="6.10" font-weight="normal" fill="#3a3a3a" textLength="6.45" lengthAdjust="spacingAndGlyphs" style="stroke-width:0.08px">17</text>
<line x1="470.90" y1="506.3" x2="470.90" y2="509.6" stroke="#333" stroke-width="1"/>
<text x="467.58" y="518.00" font-size="6.10" font-weight="normal" fill="#3a3a3a" textLength="6.45" lengthAdjust="spacingAndGlyphs" style="stroke-width:0.08px">18</text>
<line x1="481.85" y1="506.3" x2="481.85" y2="509.6" stroke="#333" stroke-width="1"/>
<text x="478.55" y="518.00" font-size="6.10" font-weight="normal" fill="#3a3a3a" textLength="6.45" lengthAdjust="spacingAndGlyphs" style="stroke-width:0.08px">19</text>
<line x1="491.35" y1="506.3" x2="491.35" y2="509.6" stroke="#333" stroke-width="1"/>
<text x="488.10" y="518.00" font-size="6.10" font-weight="normal" fill="#3a3a3a" textLength="6.45" lengthAdjust="spacingAndGlyphs" style="stroke-width:0.08px">20</text>
<line x1="499.95" y1="506.3" x2="499.95" y2="509.6" stroke="#333" stroke-width="1"/>
<text x="496.73" y="518.00" font-size="6.10" font-weight="normal" fill="#3a3a3a" textLength="6.45" lengthAdjust="spacingAndGlyphs" style="stroke-width:0.08px">21</text>
<line x1="507.60" y1="506.3" x2="507.60" y2="509.6" stroke="#333" stroke-width="1"/>
<text x="504.38" y="518.00" font-size="6.10" font-weight="normal" fill="#3a3a3a" textLength="6.45" lengthAdjust="spacingAndGlyphs" style="stroke-width:0.08px">22</text>
<text x="264.48" y="529.60" font-size="8.00" font-weight="normal" fill="#3a3a3a" textLength="41.46" lengthAdjust="spacingAndGlyphs" >Chromosomes</text>
<text x="-0.62" y="0" font-size="9.86" font-weight="normal" fill="#3a3a3a" textLength="74.29" lengthAdjust="spacingAndGlyphs" transform="translate(31.90 324.00) rotate(-90)">Losses and gains (%)</text>
<text x="-0.61" y="0" font-size="10.87" font-weight="normal" fill="#3a3a3a" textLength="58.96" lengthAdjust="spacingAndGlyphs" transform="translate(25.00 452.60) rotate(-90)">P-value and FDR</text>
<text x="7.62" y="197.50" font-size="11.29" font-weight="bold" fill="#111" textLength="8.71" lengthAdjust="spacingAndGlyphs" >C</text>
<text x="7.33" y="364.00" font-size="11.45" font-weight="bold" fill="#111" textLength="9.63" lengthAdjust="spacingAndGlyphs" >D</text>
</svg><div id="bd"></div></div></body></html>
